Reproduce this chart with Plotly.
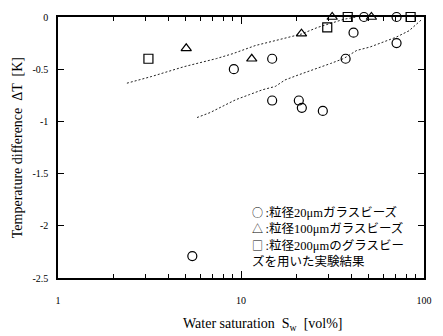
import plotly.graph_objects as go

# ---- data ----
sw_20 = [9.14, 14.8, 14.8, 20.7, 21.5, 28.0, 37.3, 41.2, 47.0, 70.8, 70.8, 5.42]
dt_20 = [-0.50, -0.40, -0.80, -0.80, -0.87, -0.90, -0.40, -0.15, 0.0, 0.0, -0.25, -2.29]

sw_100 = [5.02, 11.45, 21.4, 31.5, 51.6]
dt_100 = [-0.30, -0.40, -0.16, 0.0, 0.0]

sw_200 = [3.12, 29.6, 38.3, 84.5]
dt_200 = [-0.40, -0.10, 0.0, 0.0]

upper_x = [2.38, 3.23, 4.88, 7.35, 9.03, 12.0, 15.4, 16.7, 21.4, 26.2, 30.9, 36.4, 42.7]
upper_y = [-0.634, -0.571, -0.476, -0.398, -0.351, -0.273, -0.226, -0.21, -0.163, -0.10, -0.059, -0.022, 0.0]

lower_x = [5.75, 6.77, 7.98, 9.4, 11.1, 13.1, 15.4, 17.4, 20.5, 26.2, 30.9, 36.4, 42.9, 50.6, 59.6, 70.3, 82.8, 97.5]
lower_y = [-0.963, -0.916, -0.853, -0.791, -0.744, -0.697, -0.665, -0.603, -0.556, -0.492, -0.445, -0.398, -0.32, -0.288, -0.241, -0.194, -0.132, -0.022]

y_tickvals = [0, -0.5, -1, -1.5, -2, -2.5]
y_ticktext = ["0", "-0.5", "-1", "-1.5", "-2", "-2.5"]
x_tickvals = [1, 10, 100]
x_ticktext = ["1", "10", "100"]
x_minor = [2, 3, 4, 5, 6, 7, 8, 9, 20, 30, 40, 50, 60, 70, 80, 90]

legend_symbols = ["○", "△", "□", ""]
legend_lines = [":粒径20μmガラスビーズ", ":粒径100μmガラスビーズ",
                ":粒径200μmのグラスビー", "ズを用いた実験結果"]

serif = "Liberation Serif, Times New Roman, Noto Sans CJK JP, serif"
cjk = "Noto Sans CJK JP"

fig = go.Figure()
dash_style = dict(color="#222222", width=1, dash="2px,2px")
fig.add_trace(go.Scatter(x=upper_x, y=upper_y, mode="lines", line=dash_style, showlegend=False))
fig.add_trace(go.Scatter(x=lower_x, y=lower_y, mode="lines", line=dash_style, showlegend=False))

mk = dict(color="black", size=9, line=dict(color="black", width=1.2))
fig.add_trace(go.Scatter(x=sw_20, y=dt_20, mode="markers", cliponaxis=False,
                         marker=dict(symbol="circle-open", **mk), showlegend=False))
fig.add_trace(go.Scatter(x=sw_100, y=dt_100, mode="markers", cliponaxis=False,
                         marker=dict(symbol="triangle-up-open", **mk), showlegend=False))
fig.add_trace(go.Scatter(x=sw_200, y=dt_200, mode="markers", cliponaxis=False,
                         marker=dict(symbol="square-open", **mk), showlegend=False))

fig.update_layout(
    width=443, height=336,
    margin=dict(l=58, r=11, t=13, b=58),
    paper_bgcolor="white", plot_bgcolor="white",
    font=dict(family=serif, color="black", size=10),
    xaxis=dict(type="log", range=[0, 2], showgrid=False, zeroline=False,
               showline=True, linecolor="black", linewidth=1.5, mirror="ticks",
               ticks="inside", ticklen=7, tickwidth=1, tickcolor="black",
               tickvals=x_tickvals, ticktext=x_ticktext, ticklabelstandoff=12,
               tickfont=dict(family=serif, size=10),
               minor=dict(tickvals=x_minor, ticks="inside", ticklen=4,
                          tickwidth=1, tickcolor="black", showgrid=False)),
    yaxis=dict(range=[-2.5, 0], showgrid=False, zeroline=False,
               showline=True, linecolor="black", linewidth=1.5, mirror="ticks",
               ticks="inside", ticklen=6, tickwidth=1, tickcolor="black",
               tickvals=y_tickvals, ticktext=y_ticktext, ticklabelstandoff=6,
               tickfont=dict(family=serif, size=10)),
)

fig.add_annotation(xref="paper", yref="paper", x=0.559, y=-0.177,
                   xanchor="center", yanchor="middle", showarrow=False,
                   text="Water saturation  S<sub>w</sub>  [vol%]",
                   font=dict(family=serif, size=14, color="black"))
fig.add_annotation(xref="paper", yref="paper", x=-0.11, y=0.5, textangle=-90,
                   xanchor="center", yanchor="middle", showarrow=False,
                   text="Temperature difference  ΔT  [K]",
                   font=dict(family=serif, size=14, color="black"))

legend_text = "<br>".join(
    (f"<span style='font-family:{cjk};font-size:11px'>{s}</span>&#8201;" if s else "") + t
    for s, t in zip(legend_symbols, legend_lines))
fig.add_annotation(xref="paper", yref="paper", x=0.524, y=0.292,
                   xanchor="left", yanchor="top", align="left", showarrow=False,
                   text=legend_text,
                   font=dict(family=serif, size=12.5, color="black"))

fig.write_html("out.html")
